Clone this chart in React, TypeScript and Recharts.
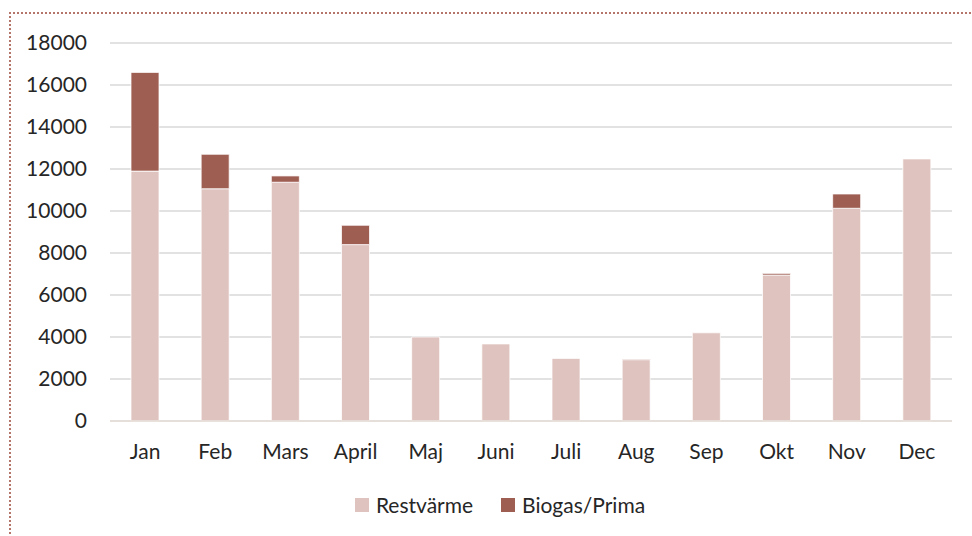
import React from 'react';
import { BarChart, Bar, XAxis, YAxis, CartesianGrid } from 'recharts';

// month labels as shown on the x axis
const months = ['Jan', 'Feb', 'Mars', 'April', 'Maj', 'Juni', 'Juli', 'Aug', 'Sep', 'Okt', 'Nov', 'Dec'];

// values
const restvarme = [11900, 11060, 11370, 8400, 4000, 3670, 2980, 2920, 4200, 6950, 10130, 12480];
const biogas = [4700, 1640, 300, 920, 0, 0, 0, 30, 0, 80, 680, 0];

const yTicks = [0, 2000, 4000, 6000, 8000, 10000, 12000, 14000, 16000, 18000];

const REST_COLOR = '#dfc3bf';
const BIO_COLOR = '#9e5e52';
const FONT = 'Lato, "Open Sans", sans-serif';

const data = months.map((m, i) => ({
  month: m,
  rest: restvarme[i],
  bio: biogas[i],
}));

const legendItems = [
  { name: 'Restvärme', color: REST_COLOR },
  { name: 'Biogas/Prima', color: BIO_COLOR },
];

const App: React.FC = () => {
  return (
    <div style={{ position: 'absolute', left: 0, top: 0, width: 972, height: 536, background: '#fff', overflow: 'hidden' }}>
      {/* dotted frame, only top and left edge are visible */}
      <div
        style={{
          position: 'absolute',
          left: 9,
          top: 12,
          width: 1000,
          height: 600,
          borderLeft: '2px dotted #b5756a',
          borderTop: '2px dotted #b5756a',
        }}
      />
      <BarChart
        width={972}
        height={536}
        data={data}
        margin={{ top: 43, right: 20, bottom: 85, left: 10 }}
        style={{ position: 'absolute', left: 0, top: 0 }}
      >
        <CartesianGrid vertical={false} stroke="#d9d9d9" strokeWidth={1.5} />
        <XAxis
          dataKey="month"
          height={30}
          tickLine={false}
          tickSize={0}
          tickMargin={23}
          axisLine={{ stroke: '#e6dcd6', strokeWidth: 1.5 }}
          tick={{ fill: '#262626', fontSize: 21, fontFamily: FONT }}
          interval={0}
        />
        <YAxis
          width={100}
          domain={[0, 18000]}
          ticks={yTicks}
          axisLine={false}
          tickLine={false}
          tickSize={0}
          tickMargin={23}
          tick={{ fill: '#262626', fontSize: 21, fontFamily: FONT }}
          interval={0}
        />
        <Bar dataKey="rest" stackId="a" fill={REST_COLOR} stroke="#fff" strokeWidth={0.75} barSize={28} isAnimationActive={false} />
        <Bar dataKey="bio" stackId="a" fill={BIO_COLOR} stroke="#fff" strokeWidth={0.75} barSize={28} isAnimationActive={false} />
      </BarChart>
      <div
        style={{
          position: 'absolute',
          left: 0,
          top: 492,
          width: 1000,
          display: 'flex',
          justifyContent: 'center',
          fontFamily: FONT,
          fontSize: 21,
          color: '#262626',
          lineHeight: '26px',
        }}
      >
        {legendItems.map((it) => (
          <div key={it.name} style={{ display: 'flex', alignItems: 'center', margin: '0 14px' }}>
            <span style={{ display: 'inline-block', width: 14, height: 14, background: it.color, marginRight: 7 }} />
            <span>{it.name}</span>
          </div>
        ))}
      </div>
    </div>
  );
};

export default App;
